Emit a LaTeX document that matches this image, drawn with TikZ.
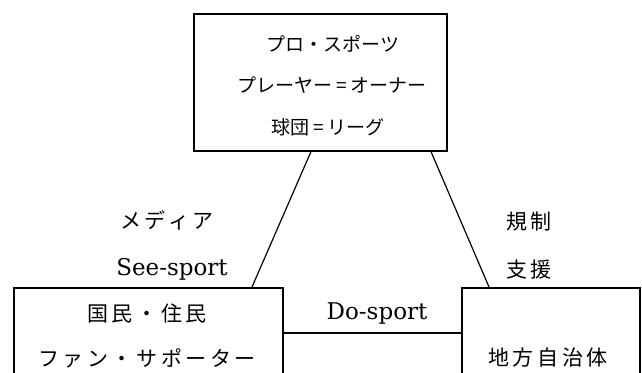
\documentclass[tikz,border=0pt]{standalone}
\usepackage{fontspec}
\setmainfont{DejaVu Serif}
\newfontfamily\jp{Noto Sans CJK JP}
\newfontfamily\jpw[LetterSpace=17]{Noto Sans CJK JP}
\usetikzlibrary{calc}
\newcommand{\eqsep}{\hspace{3.5bp}=\hspace{3.5bp}}
\begin{document}
\begin{tikzpicture}[x=1bp,y=-1bp,
  box/.style={draw,line width=1.6bp,anchor=north west,inner sep=0pt},
  conn/.style={line width=1.2bp},
  jtop/.style={font=\jp\fontsize{19bp}{21bp}\selectfont,inner sep=0pt},
  jlow/.style={font=\jpw\fontsize{21bp}{23bp}\selectfont,inner sep=0pt},
  lat/.style={font=\fontsize{23bp}{25bp}\selectfont,inner sep=0pt}]
\useasboundingbox (0,0) rectangle (642,372);
\clip (0,0) rectangle (642,372);
\node[box,minimum width=253bp,minimum height=137bp] (pro) at (193,13) {};
\node[box,minimum width=269bp,minimum height=110bp] (lb) at (13,287) {};
\node[box,minimum width=178bp,minimum height=110bp] (rb) at (461,287) {};
\node[jtop] (t1) at (333,44) {プロ・スポーツ};
\node[jtop] (t2) at (332,85) {プレーヤー\eqsep オーナー};
\node[jtop] (t3) at (328,127) {球団\eqsep リーグ};
\node[jlow] (media) at (167,220) {メディア};
\node[lat] (see) at (172,269) {See-sport};
\node[jlow] (kokumin) at (147,313) {国民・住民};
\node[jlow] (fan) at (147,358) {ファン・サポーター};
\node[jlow] (kisei) at (529,222) {規制};
\node[jlow] (shien) at (529,270) {支援};
\node[lat] (do) at (377,313) {Do-sport};
\node[jlow] (chiho) at (548,358) {地方自治体};
\coordinate (pl) at ($(pro.south west)+(118,0)$);
\coordinate (pr) at ($(pro.south west)+(238,0)$);
\coordinate (ll) at ($(lb.north west)+(239,0)$);
\coordinate (rl) at ($(rb.north west)+(28,0)$);
\coordinate (hl) at ($(lb.north east)+(0,46)$);
\coordinate (hr) at ($(rb.north west)+(0,46)$);
\draw[conn] (pl) -- (ll);
\draw[conn] (pr) -- (rl);
\draw[conn] (hl) -- (hr);
\end{tikzpicture}
\end{document}
